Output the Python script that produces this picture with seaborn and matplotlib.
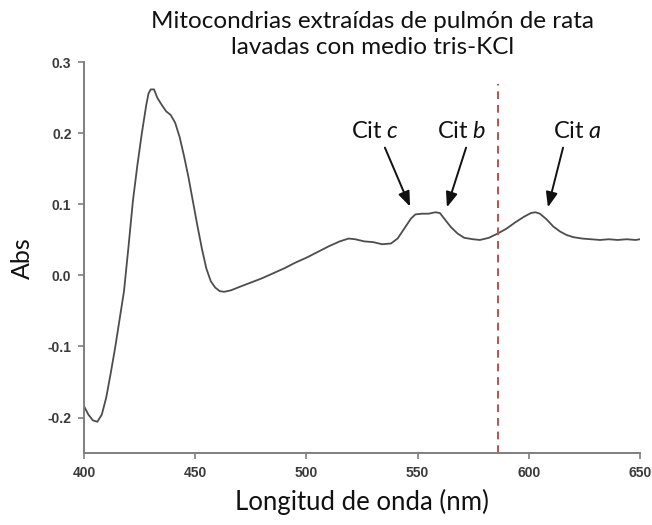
import matplotlib
matplotlib.use("Agg")
import matplotlib.pyplot as plt
import seaborn as sns
import pandas as pd

# Absorption spectrum of rat lung mitochondria (tris-KCl wash)
wavelength = [400, 402, 404, 406, 408, 410, 412, 414, 416, 418, 420, 422, 424, 426, 428, 429,
              430, 431.5, 433, 435, 437, 439, 441, 443, 445, 447, 449, 451, 453, 455, 457, 459,
              461, 463, 466, 470, 475, 480, 485, 490, 495, 500, 505, 510, 515, 519, 522, 526,
              530, 534, 538, 541, 544, 547, 549, 552, 555, 558, 560, 562, 565, 568, 571, 575,
              578, 582, 586, 590, 594, 598, 601, 603, 605, 608, 611, 614, 617, 620, 624, 628,
              632, 636, 640, 644, 648, 650]
absorbance = [-0.184, -0.196, -0.204, -0.206, -0.196, -0.172, -0.138, -0.102, -0.062, -0.022,
              0.040, 0.105, 0.155, 0.200, 0.240, 0.256, 0.262, 0.262, 0.250, 0.240, 0.231,
              0.226, 0.215, 0.195, 0.168, 0.138, 0.104, 0.070, 0.038, 0.010, -0.008, -0.017,
              -0.022, -0.023, -0.021, -0.016, -0.010, -0.004, 0.003, 0.010, 0.018, 0.025,
              0.033, 0.041, 0.048, 0.052, 0.051, 0.048, 0.047, 0.044, 0.045, 0.052, 0.066,
              0.080, 0.086, 0.087, 0.087, 0.089, 0.088, 0.080, 0.068, 0.059, 0.053, 0.051,
              0.050, 0.053, 0.059, 0.066, 0.075, 0.083, 0.088, 0.089, 0.087, 0.079, 0.069,
              0.062, 0.057, 0.054, 0.052, 0.051, 0.050, 0.051, 0.050, 0.051, 0.050, 0.051]

# Cytochrome labels: text, text position, arrow tip
cyt_labels = ["Cit $\\mathit{c}$", "Cit $\\mathbf{\\mathit{b}}$", "Cit $\\mathit{a}$"]
cyt_text_x = [531.0, 570.0, 622.0]
cyt_tip_x = [546.6, 563.2, 608.6]
cyt_tip_y = [0.097, 0.096, 0.096]
cyt_tail_x = [535.3, 571.8, 615.4]

ref_wavelength = 586
x_ticks = [400, 450, 500, 550, 600, 650]
y_ticks = [-0.2, -0.1, 0.0, 0.1, 0.2, 0.3]

sns.set_style("ticks")
plt.rcParams["font.family"] = ["Lato", "DejaVu Sans"]
plt.rcParams["mathtext.fontset"] = "custom"
plt.rcParams["mathtext.it"] = "Lato:italic"
plt.rcParams["mathtext.bf"] = "Lato:bold:italic"
plt.rcParams["mathtext.rm"] = "Lato"

df = pd.DataFrame({"wavelength": wavelength, "absorbance": absorbance})

fig = plt.figure(figsize=(6.52, 5.25), dpi=100)
ax = fig.add_axes([0.1288, 0.1371, 0.8528, 0.7440])

sns.lineplot(data=df, x="wavelength", y="absorbance", ax=ax, color="#4d4d4d",
             linewidth=1.3, sort=False)

ax.axvline(ref_wavelength, ymin=0, ymax=(0.269 + 0.25) / 0.55, color="#c0504d",
           linestyle=(0, (4, 3)), linewidth=1.4)

for lab, tx, hx, hy, sx in zip(cyt_labels, cyt_text_x, cyt_tip_x, cyt_tip_y, cyt_tail_x):
    ax.text(tx, 0.203, lab, ha="center", va="center", fontsize=17, color="#111111")
    ax.annotate("", xy=(hx, hy), xytext=(sx, 0.180),
                arrowprops=dict(arrowstyle="-|>,head_length=0.9,head_width=0.35",
                                color="#111111", linewidth=1.4, shrinkA=0, shrinkB=0))

ax.set_xlim(400, 650)
ax.set_ylim(-0.25, 0.3)
ax.set_xticks(x_ticks)
ax.set_yticks(y_ticks)
ax.set_xticklabels([str(v) for v in x_ticks])
ax.set_yticklabels([f"{v:.1f}" for v in y_ticks])
for lbl in ax.get_xticklabels() + ax.get_yticklabels():
    lbl.set_fontfamily("Liberation Sans")
    lbl.set_fontweight("bold")
    lbl.set_fontsize(10)
    lbl.set_color("#3a3a3a")

sns.despine(ax=ax)
for side in ["left", "bottom"]:
    ax.spines[side].set_color("#7f7f7f")
    ax.spines[side].set_linewidth(1.4)
ax.tick_params(axis="both", direction="out", length=4, width=1.2, color="#7f7f7f", pad=5)

ax.set_xlabel("Longitud de onda (nm)", fontsize=18.5, color="#111111", labelpad=7)
ax.set_ylabel("Abs", fontsize=18, color="#111111", labelpad=10)

fig.text(0.572, 1 - 21 / 525, "Mitocondrias extraídas de pulmón de rata", ha="center",
         va="center", fontsize=17.5, color="#111111")
fig.text(0.572, 1 - 47 / 525, "lavadas con medio tris-KCl", ha="center", va="center",
         fontsize=17.5, color="#111111")

fig.savefig("out.png", dpi=100)
